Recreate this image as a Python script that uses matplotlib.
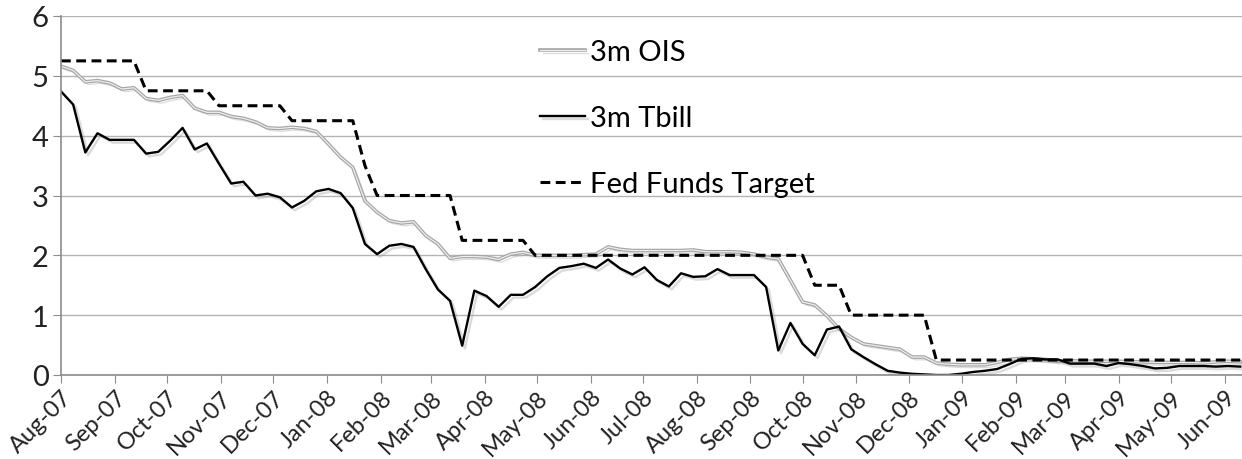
import matplotlib
matplotlib.use("Agg")
import matplotlib.pyplot as plt
import matplotlib.dates as mdates
import matplotlib.patheffects as pe
import numpy as np
import pandas as pd

plt.rcParams['font.family'] = ['Lato', 'DejaVu Sans']

# weekly observations, Wednesdays from 1 Aug 2007
dates = pd.date_range("2007-08-01", periods=98, freq="7D")

ois = [5.16, 5.09, 4.90, 4.92, 4.88, 4.78, 4.80, 4.62, 4.59, 4.64,
       4.67, 4.46, 4.39, 4.39, 4.32, 4.29, 4.23, 4.13, 4.12, 4.14,
       4.12, 4.07, 3.86, 3.64, 3.47, 2.91, 2.72, 2.58, 2.54, 2.56,
       2.33, 2.19, 1.95, 1.98, 1.98, 1.97, 1.93, 2.02, 2.05, 2.00,
       2.00, 2.00, 2.00, 2.01, 2.02, 2.14, 2.10, 2.08, 2.08, 2.08,
       2.08, 2.08, 2.09, 2.06, 2.06, 2.06, 2.05, 2.02, 1.97, 1.94,
       1.58, 1.22, 1.17, 0.99, 0.77, 0.63, 0.52, 0.49, 0.46, 0.43,
       0.30, 0.30, 0.20, 0.18, 0.17, 0.17, 0.17, 0.21, 0.26, 0.28,
       0.27, 0.26, 0.23, 0.24, 0.23, 0.23, 0.23, 0.23, 0.22, 0.22,
       0.21, 0.21, 0.21, 0.21, 0.20, 0.22, 0.23, 0.22]

tbill = [4.74, 4.52, 3.72, 4.04, 3.93, 3.93, 3.93, 3.70, 3.73, 3.92,
         4.13, 3.77, 3.87, 3.53, 3.20, 3.23, 3.00, 3.03, 2.97, 2.80,
         2.91, 3.07, 3.11, 3.04, 2.79, 2.19, 2.02, 2.16, 2.19, 2.14,
         1.77, 1.43, 1.24, 0.49, 1.41, 1.32, 1.14, 1.34, 1.34, 1.47,
         1.65, 1.79, 1.82, 1.86, 1.79, 1.93, 1.78, 1.68, 1.80, 1.59,
         1.48, 1.70, 1.64, 1.65, 1.77, 1.67, 1.67, 1.67, 1.47, 0.41,
         0.87, 0.52, 0.33, 0.76, 0.81, 0.43, 0.30, 0.18, 0.07, 0.04,
         0.02, 0.01, 0.00, 0.00, 0.02, 0.05, 0.07, 0.10, 0.18, 0.27,
         0.28, 0.26, 0.26, 0.19, 0.19, 0.19, 0.15, 0.20, 0.18, 0.15,
         0.11, 0.12, 0.15, 0.15, 0.15, 0.14, 0.15, 0.14]

fed = [5.25] * 7 + [4.75] * 6 + [4.50] * 6 + [4.25] * 6 + [3.50] + \
      [3.00] * 7 + [2.25] * 6 + [2.00] * 23 + [1.50] * 3 + [1.00] * 7 + \
      [0.25] * 26

yticks = [0, 1, 2, 3, 4, 5, 6]

fig = plt.figure(figsize=(12.42, 4.6), dpi=100)
ax = fig.add_axes([61 / 1242, 84 / 460, 1 - 61 / 1242, 359 / 460])

shadow = pe.SimpleLineShadow(offset=(2, -2), shadow_color="#999999", alpha=0.35, rho=0.3)

ax.plot(dates, ois, color="#eeeeee", lw=0.9, label="3m OIS",
        path_effects=[shadow, pe.Stroke(linewidth=2.6, foreground="#a4a4a4"), pe.Normal()])
ax.plot(dates, tbill, color="black", lw=1.7, label="3m Tbill",
        path_effects=[shadow, pe.Normal()])
ax.plot(dates, fed, color="black", lw=2.2, dashes=(3.2, 1.8), label="Fed Funds Target")

ax.set_ylim(0, 6)
ax.set_yticks(yticks)
ax.set_xlim(dates[0], dates[-1] + pd.Timedelta(days=1))
ax.grid(axis="y", color="#b4b4b4", lw=1.0)
ax.set_axisbelow(True)

ax.xaxis.set_major_locator(mdates.MonthLocator())
ax.xaxis.set_major_formatter(mdates.DateFormatter("%b-%y"))
plt.setp(ax.get_xticklabels(), rotation=45, ha="right", rotation_mode="anchor")

for s in ["top", "right"]:
    ax.spines[s].set_visible(False)
ax.spines["left"].set_color("#8c8c8c")
ax.spines["bottom"].set_color("#8c8c8c")
ax.spines["left"].set_linewidth(1.2)
ax.spines["bottom"].set_linewidth(1.2)
ax.tick_params(axis="x", colors="#8c8c8c", length=6, labelsize=17, labelcolor="#222222", pad=2)
ax.tick_params(axis="y", colors="#8c8c8c", length=6, labelsize=21, labelcolor="#222222", pad=3)

ax.legend(loc="upper left", bbox_to_anchor=(0.4056, 0.935), frameon=False, fontsize=21,
          handlelength=1.55, handletextpad=0.15, labelspacing=1.37, borderaxespad=0, borderpad=0)

fig.savefig("out.png", dpi=100)
